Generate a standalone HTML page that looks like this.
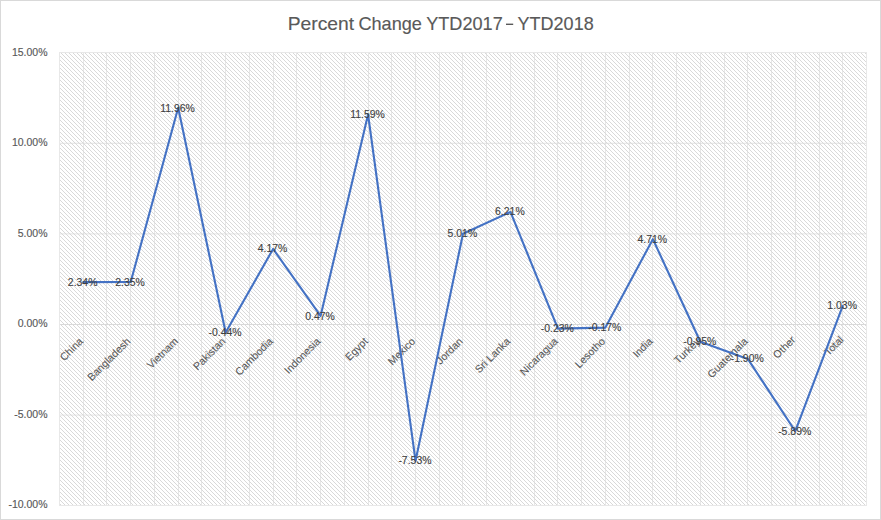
<!DOCTYPE html>
<html><head><meta charset="utf-8"><style>
html,body{margin:0;padding:0;background:#fff;}
svg{display:block;}
text{font-family:"Liberation Sans",sans-serif;}
.t{stroke:#595959;stroke-width:0.15;}
.y{stroke:#595959;stroke-width:0.15;}
.c{stroke:#595959;stroke-width:0.08;}
.d{stroke:#404040;stroke-width:0.12;}
</style></head><body>
<svg width="881" height="520" viewBox="0 0 881 520">
<defs>
<pattern id="h" x="0" y="0" width="4" height="4" patternUnits="userSpaceOnUse">
<rect x="0" y="0" width="1" height="1" fill="#d9d9d9"/><rect x="1" y="1" width="1" height="1" fill="#d9d9d9"/><rect x="2" y="2" width="1" height="1" fill="#d9d9d9"/><rect x="3" y="3" width="1" height="1" fill="#d9d9d9"/>
</pattern>
</defs>
<rect x="0" y="0" width="881" height="520" fill="#fff"/>
<rect x="0.5" y="0.5" width="880" height="519" fill="none" stroke="#d9d9d9" stroke-width="1"/>
<rect x="60" y="53" width="806" height="452" fill="url(#h)" shape-rendering="crispEdges"/>
<line x1="83.500" y1="53.0" x2="83.500" y2="505.0" stroke="#d9d9d9" stroke-opacity="0.62" stroke-width="1"/>
<line x1="106.500" y1="53.0" x2="106.500" y2="505.0" stroke="#d9d9d9" stroke-opacity="0.62" stroke-width="1"/>
<line x1="130.500" y1="53.0" x2="130.500" y2="505.0" stroke="#d9d9d9" stroke-opacity="0.62" stroke-width="1"/>
<line x1="154.500" y1="53.0" x2="154.500" y2="505.0" stroke="#d9d9d9" stroke-opacity="0.62" stroke-width="1"/>
<line x1="178.500" y1="53.0" x2="178.500" y2="505.0" stroke="#d9d9d9" stroke-opacity="0.62" stroke-width="1"/>
<line x1="201.500" y1="53.0" x2="201.500" y2="505.0" stroke="#d9d9d9" stroke-opacity="0.62" stroke-width="1"/>
<line x1="225.500" y1="53.0" x2="225.500" y2="505.0" stroke="#d9d9d9" stroke-opacity="0.62" stroke-width="1"/>
<line x1="249.500" y1="53.0" x2="249.500" y2="505.0" stroke="#d9d9d9" stroke-opacity="0.62" stroke-width="1"/>
<line x1="273.500" y1="53.0" x2="273.500" y2="505.0" stroke="#d9d9d9" stroke-opacity="0.62" stroke-width="1"/>
<line x1="296.500" y1="53.0" x2="296.500" y2="505.0" stroke="#d9d9d9" stroke-opacity="0.62" stroke-width="1"/>
<line x1="320.500" y1="53.0" x2="320.500" y2="505.0" stroke="#d9d9d9" stroke-opacity="0.62" stroke-width="1"/>
<line x1="344.500" y1="53.0" x2="344.500" y2="505.0" stroke="#d9d9d9" stroke-opacity="0.62" stroke-width="1"/>
<line x1="368.500" y1="53.0" x2="368.500" y2="505.0" stroke="#d9d9d9" stroke-opacity="0.62" stroke-width="1"/>
<line x1="391.500" y1="53.0" x2="391.500" y2="505.0" stroke="#d9d9d9" stroke-opacity="0.62" stroke-width="1"/>
<line x1="415.500" y1="53.0" x2="415.500" y2="505.0" stroke="#d9d9d9" stroke-opacity="0.62" stroke-width="1"/>
<line x1="439.500" y1="53.0" x2="439.500" y2="505.0" stroke="#d9d9d9" stroke-opacity="0.62" stroke-width="1"/>
<line x1="462.500" y1="53.0" x2="462.500" y2="505.0" stroke="#d9d9d9" stroke-opacity="0.62" stroke-width="1"/>
<line x1="486.500" y1="53.0" x2="486.500" y2="505.0" stroke="#d9d9d9" stroke-opacity="0.62" stroke-width="1"/>
<line x1="510.500" y1="53.0" x2="510.500" y2="505.0" stroke="#d9d9d9" stroke-opacity="0.62" stroke-width="1"/>
<line x1="534.500" y1="53.0" x2="534.500" y2="505.0" stroke="#d9d9d9" stroke-opacity="0.62" stroke-width="1"/>
<line x1="557.500" y1="53.0" x2="557.500" y2="505.0" stroke="#d9d9d9" stroke-opacity="0.62" stroke-width="1"/>
<line x1="581.500" y1="53.0" x2="581.500" y2="505.0" stroke="#d9d9d9" stroke-opacity="0.62" stroke-width="1"/>
<line x1="605.500" y1="53.0" x2="605.500" y2="505.0" stroke="#d9d9d9" stroke-opacity="0.62" stroke-width="1"/>
<line x1="629.500" y1="53.0" x2="629.500" y2="505.0" stroke="#d9d9d9" stroke-opacity="0.62" stroke-width="1"/>
<line x1="652.500" y1="53.0" x2="652.500" y2="505.0" stroke="#d9d9d9" stroke-opacity="0.62" stroke-width="1"/>
<line x1="676.500" y1="53.0" x2="676.500" y2="505.0" stroke="#d9d9d9" stroke-opacity="0.62" stroke-width="1"/>
<line x1="700.500" y1="53.0" x2="700.500" y2="505.0" stroke="#d9d9d9" stroke-opacity="0.62" stroke-width="1"/>
<line x1="724.500" y1="53.0" x2="724.500" y2="505.0" stroke="#d9d9d9" stroke-opacity="0.62" stroke-width="1"/>
<line x1="747.500" y1="53.0" x2="747.500" y2="505.0" stroke="#d9d9d9" stroke-opacity="0.62" stroke-width="1"/>
<line x1="771.500" y1="53.0" x2="771.500" y2="505.0" stroke="#d9d9d9" stroke-opacity="0.62" stroke-width="1"/>
<line x1="795.500" y1="53.0" x2="795.500" y2="505.0" stroke="#d9d9d9" stroke-opacity="0.62" stroke-width="1"/>
<line x1="819.500" y1="53.0" x2="819.500" y2="505.0" stroke="#d9d9d9" stroke-opacity="0.62" stroke-width="1"/>
<line x1="842.500" y1="53.0" x2="842.500" y2="505.0" stroke="#d9d9d9" stroke-opacity="0.62" stroke-width="1"/>
<rect x="59.5" y="52.5" width="807" height="453" fill="none" stroke="#d9d9d9" stroke-opacity="0.60" stroke-width="1"/>
<line x1="60" y1="143.300" x2="866" y2="143.300" stroke="#d9d9d9" stroke-opacity="0.70" stroke-width="1"/>
<line x1="60" y1="233.900" x2="866" y2="233.900" stroke="#d9d9d9" stroke-opacity="0.70" stroke-width="1"/>
<line x1="60" y1="324.500" x2="866" y2="324.500" stroke="#d9d9d9" stroke-opacity="1.00" stroke-width="1"/>
<line x1="60" y1="415.100" x2="866" y2="415.100" stroke="#d9d9d9" stroke-opacity="0.70" stroke-width="1"/>
<text class="t" x="287.66" y="29.80" font-size="18.50" fill="#595959" textLength="66.40" lengthAdjust="spacingAndGlyphs">Percent</text>
<text class="t" x="358.42" y="29.80" font-size="18.50" fill="#595959" textLength="63.47" lengthAdjust="spacingAndGlyphs">Change</text>
<text class="t" x="426.20" y="29.80" font-size="18.50" fill="#595959" textLength="76.56" lengthAdjust="spacingAndGlyphs">YTD2017</text>
<rect x="506" y="23.6" width="7.2" height="1.4" fill="#595959"/>
<text class="t" x="517.60" y="29.80" font-size="18.50" fill="#595959" textLength="76.06" lengthAdjust="spacingAndGlyphs">YTD2018</text>
<text class="y" transform="translate(47.50,55.90) scale(0.955,1)" text-anchor="end" font-size="11.00" fill="#595959">15.00%</text>
<text class="y" transform="translate(47.50,145.90) scale(0.955,1)" text-anchor="end" font-size="11.00" fill="#595959">10.00%</text>
<text class="y" transform="translate(47.50,236.90) scale(0.955,1)" text-anchor="end" font-size="11.00" fill="#595959">5.00%</text>
<text class="y" transform="translate(47.50,326.90) scale(0.955,1)" text-anchor="end" font-size="11.00" fill="#595959">0.00%</text>
<text class="y" transform="translate(47.50,417.90) scale(0.955,1)" text-anchor="end" font-size="11.00" fill="#595959">-5.00%</text>
<text class="y" transform="translate(47.50,507.90) scale(0.955,1)" text-anchor="end" font-size="11.00" fill="#595959">-10.00%</text>
<text class="c" transform="translate(83.74,342.00) rotate(-45) scale(1.000,1)" text-anchor="end" font-size="10.60" fill="#595959">China</text>
<text class="c" transform="translate(131.21,342.00) rotate(-45) scale(1.000,1)" text-anchor="end" font-size="10.60" fill="#595959">Bangladesh</text>
<text class="c" transform="translate(178.68,342.00) rotate(-45) scale(1.000,1)" text-anchor="end" font-size="10.60" fill="#595959">Vietnam</text>
<text class="c" transform="translate(226.15,342.00) rotate(-45) scale(1.000,1)" text-anchor="end" font-size="10.60" fill="#595959">Pakistan</text>
<text class="c" transform="translate(273.62,342.00) rotate(-45) scale(1.000,1)" text-anchor="end" font-size="10.60" fill="#595959">Cambodia</text>
<text class="c" transform="translate(321.09,342.00) rotate(-45) scale(1.000,1)" text-anchor="end" font-size="10.60" fill="#595959">Indonesia</text>
<text class="c" transform="translate(368.56,342.00) rotate(-45) scale(1.000,1)" text-anchor="end" font-size="10.60" fill="#595959">Egypt</text>
<text class="c" transform="translate(416.03,342.00) rotate(-45) scale(1.000,1)" text-anchor="end" font-size="10.60" fill="#595959">Mexico</text>
<text class="c" transform="translate(463.50,342.00) rotate(-45) scale(1.000,1)" text-anchor="end" font-size="10.60" fill="#595959">Jordan</text>
<text class="c" transform="translate(510.97,342.00) rotate(-45) scale(1.000,1)" text-anchor="end" font-size="10.60" fill="#595959">Sri Lanka</text>
<text class="c" transform="translate(558.44,342.00) rotate(-45) scale(1.000,1)" text-anchor="end" font-size="10.60" fill="#595959">Nicaragua</text>
<text class="c" transform="translate(605.91,342.00) rotate(-45) scale(1.000,1)" text-anchor="end" font-size="10.60" fill="#595959">Lesotho</text>
<text class="c" transform="translate(653.38,342.00) rotate(-45) scale(1.000,1)" text-anchor="end" font-size="10.60" fill="#595959">India</text>
<text class="c" transform="translate(700.85,342.00) rotate(-45) scale(1.000,1)" text-anchor="end" font-size="10.60" fill="#595959">Turkey</text>
<text class="c" transform="translate(748.32,342.00) rotate(-45) scale(1.000,1)" text-anchor="end" font-size="10.60" fill="#595959">Guatemala</text>
<text class="c" transform="translate(796.09,340.50) rotate(-45) scale(1.000,1)" text-anchor="end" font-size="10.60" fill="#595959">Other</text>
<text class="c" transform="translate(844.26,340.50) rotate(-45) scale(1.000,1)" text-anchor="end" font-size="10.60" fill="#595959">Total</text>
<polyline points="83.24,282.10 130.71,281.92 178.18,107.78 225.65,332.47 273.12,248.94 320.59,315.98 368.06,114.49 415.53,460.94 463.00,233.72 510.47,211.97 557.94,328.67 605.41,327.58 652.88,239.15 700.35,341.71 747.82,358.93 795.29,431.23 842.76,305.84" fill="none" stroke="#4472c4" stroke-width="2.1" stroke-linejoin="round" stroke-linecap="round"/>
<text class="d" transform="translate(82.64,286.00) scale(0.950,1)" text-anchor="middle" font-size="11.00" fill="#404040">2.34%</text>
<text class="d" transform="translate(130.11,286.00) scale(0.950,1)" text-anchor="middle" font-size="11.00" fill="#404040">2.35%</text>
<text class="d" transform="translate(177.58,112.00) scale(0.950,1)" text-anchor="middle" font-size="11.00" fill="#404040">11.96%</text>
<text class="d" transform="translate(225.05,336.00) scale(0.950,1)" text-anchor="middle" font-size="11.00" fill="#404040">-0.44%</text>
<text class="d" transform="translate(272.52,252.00) scale(0.950,1)" text-anchor="middle" font-size="11.00" fill="#404040">4.17%</text>
<text class="d" transform="translate(319.99,320.00) scale(0.950,1)" text-anchor="middle" font-size="11.00" fill="#404040">0.47%</text>
<text class="d" transform="translate(367.46,118.00) scale(0.950,1)" text-anchor="middle" font-size="11.00" fill="#404040">11.59%</text>
<text class="d" transform="translate(414.93,464.00) scale(0.950,1)" text-anchor="middle" font-size="11.00" fill="#404040">-7.53%</text>
<text class="d" transform="translate(462.40,237.00) scale(0.950,1)" text-anchor="middle" font-size="11.00" fill="#404040">5.01%</text>
<text class="d" transform="translate(509.87,215.00) scale(0.950,1)" text-anchor="middle" font-size="11.00" fill="#404040">6.21%</text>
<text class="d" transform="translate(557.34,332.00) scale(0.950,1)" text-anchor="middle" font-size="11.00" fill="#404040">-0.23%</text>
<text class="d" transform="translate(604.81,331.00) scale(0.950,1)" text-anchor="middle" font-size="11.00" fill="#404040">-0.17%</text>
<text class="d" transform="translate(652.28,243.00) scale(0.950,1)" text-anchor="middle" font-size="11.00" fill="#404040">4.71%</text>
<text class="d" transform="translate(699.75,345.00) scale(0.950,1)" text-anchor="middle" font-size="11.00" fill="#404040">-0.95%</text>
<text class="d" transform="translate(747.22,362.00) scale(0.950,1)" text-anchor="middle" font-size="11.00" fill="#404040">-1.90%</text>
<text class="d" transform="translate(794.69,435.00) scale(0.950,1)" text-anchor="middle" font-size="11.00" fill="#404040">-5.89%</text>
<text class="d" transform="translate(842.16,309.00) scale(0.950,1)" text-anchor="middle" font-size="11.00" fill="#404040">1.03%</text>
</svg></body></html>
